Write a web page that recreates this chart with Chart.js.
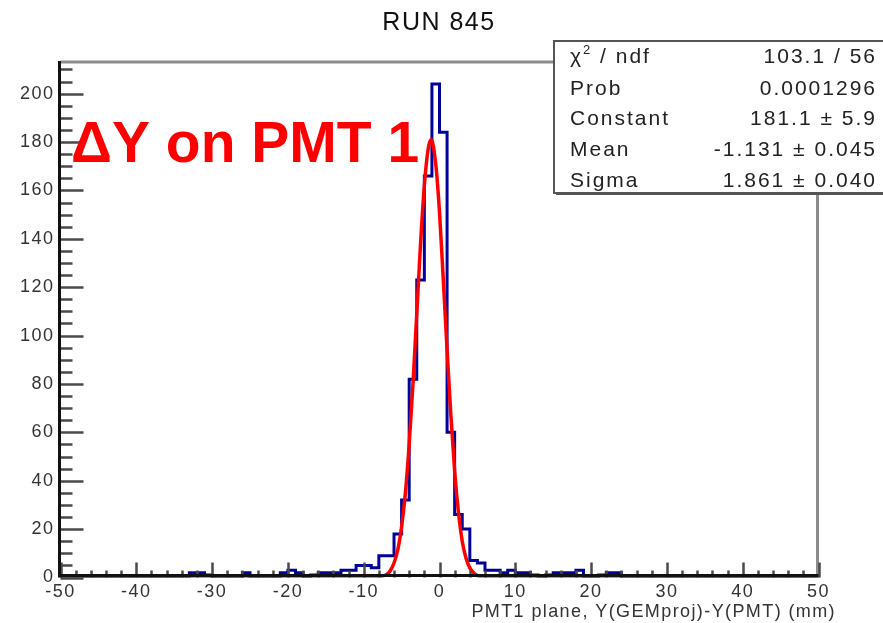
<!DOCTYPE html>
<html>
<head>
<meta charset="utf-8">
<script src="https://cdn.jsdelivr.net/npm/chart.js@4"></script>
<style>
html, body { margin: 0; padding: 0; background: #fff; }
</style>
</head>
<body>
<canvas id="myChart" width="883" height="623"></canvas>
<script>
// axis range and tick labels
const xMin = -50, xMax = 50
const yMax = 213.5
const xTicks = [-50, -40, -30, -20, -10, 0, 10, 20, 30, 40, 50]
const yTicks = [0, 20, 40, 60, 80, 100, 120, 140, 160, 180, 200]

// histogram counts, one per 1 mm bin from -50 to 50
const counts = [
    0, 0, 0, 0, 0, 0, 0, 0, 0, 0,
    0, 0, 0, 0, 0, 0, 0, 2, 2, 1,
    0, 0, 0, 0, 2, 0, 0, 0, 0, 2,
    3, 2, 0, 1, 2, 2, 2, 3, 3, 5,
    5, 4, 9, 9, 18, 32, 82, 123, 166, 204,
    184, 60, 26, 20, 7, 6, 3, 3, 2, 3,
    2, 2, 1, 0, 1, 2, 2, 2, 3, 0,
    0, 1, 2, 2, 0, 0, 0, 0, 0, 0,
    0, 0, 0, 0, 0, 0, 0, 0, 0, 0,
    0, 0, 0, 0, 0, 0, 0, 0, 0, 0
]

// gaussian fit curve
const fitX = [-50, -10, -9, -8, -7, -6.5, -6, -5.5, -5, -4.5, -4, -3.5, -3, -2.5, -2, -1.5, -1.1, -0.5, 0, 0.5, 1, 1.5, 2, 2.5, 3, 3.5, 4, 4.5, 5, 6, 7, 50]
const fitY = [0, 0, 0, 0.2, 1.2, 2.8, 6, 11.5, 21, 35, 55, 80, 109, 138, 162, 177, 181, 171, 151, 123, 94, 67, 44, 27, 15, 8, 4, 2, 0.8, 0.1, 0, 0]

// stats box
const statLabels = ['χ', 'Prob', 'Constant', 'Mean', 'Sigma']
const statValues = ['103.1 / 56', '0.0001296', '181.1 ± 5.9', '-1.131 ± 0.045', '1.861 ± 0.040']

const titleText = 'RUN 845'
const xTitle = 'PMT1 plane, Y(GEMproj)-Y(PMT) (mm)'
const labelText = 'ΔY on PMT 1'

// points at the low edge of every bin, plus the last upper edge
let histPoints = counts.map(function (c, i) {
    return { x: xMin + i, y: c }
})
histPoints.push({ x: xMax, y: counts[counts.length - 1] })

let fitPoints = fitX.map(function (x, i) {
    return { x: x, y: fitY[i] }
})

const FONT = '"Liberation Sans", Arial, sans-serif'

// ROOT text looks loosely spaced
const spacing = {
    id: 'spacing',
    beforeDraw(chart) { chart.ctx.letterSpacing = '1.5px' },
    afterDraw(chart) { chart.ctx.letterSpacing = '0px' }
}

// frame + inward ticks like a ROOT pad
const frame = {
    id: 'frame',
    afterDatasetsDraw(chart) {
        const { ctx, chartArea: a, scales } = chart
        const x = scales.x, y = scales.y
        ctx.save()
        ctx.strokeStyle = '#8c8c8c'
        ctx.lineWidth = 3
        ctx.beginPath()
        ctx.moveTo(a.left, a.top + 1)
        ctx.lineTo(a.right, a.top + 1)
        ctx.moveTo(a.right - 1, a.top)
        ctx.lineTo(a.right - 1, a.bottom)
        ctx.stroke()

        ctx.strokeStyle = '#4a4a4a'
        ctx.lineWidth = 2.5
        ctx.beginPath()
        const yStep = (yTicks[1] - yTicks[0]) / 4
        for (let v = 0; v <= yMax; v += yStep) {
            const py = Math.round(y.getPixelForValue(v)) + 0.5
            const len = yTicks.includes(v) ? 23 : 12
            ctx.moveTo(a.left, py)
            ctx.lineTo(a.left + len, py)
        }
        const xStep = (xTicks[1] - xTicks[0]) / 5
        for (let v = xMin; v <= xMax; v += xStep) {
            const px = Math.round(x.getPixelForValue(v)) + 0.5
            const len = xTicks.includes(v) ? 15 : 7
            ctx.moveTo(px, a.bottom)
            ctx.lineTo(px, a.bottom - len)
        }
        ctx.stroke()

        ctx.strokeStyle = '#111'
        ctx.lineWidth = 3
        ctx.beginPath()
        ctx.moveTo(a.left - 1, a.top)
        ctx.lineTo(a.left - 1, a.bottom)
        ctx.moveTo(a.left - 2, a.bottom - 2)
        ctx.lineTo(a.right, a.bottom - 2)
        ctx.stroke()
        ctx.restore()
    },
    afterDraw(chart) {
        const ctx = chart.ctx
        ctx.save()
        ctx.textBaseline = 'alphabetic'

        // title
        ctx.letterSpacing = '1.5px'
        ctx.fillStyle = '#111'
        ctx.font = '25px ' + FONT
        ctx.textAlign = 'center'
        ctx.fillText(titleText, 439, 30)

        // big red label
        ctx.letterSpacing = '0px'
        ctx.fillStyle = '#ff0000'
        ctx.font = 'bold 57px ' + FONT
        ctx.textAlign = 'left'
        ctx.fillText(labelText, 71, 162)

        // x axis title
        ctx.letterSpacing = '1.4px'
        ctx.fillStyle = '#333'
        ctx.font = '18px ' + FONT
        ctx.textAlign = 'right'
        ctx.fillText(xTitle, 836, 617)

        // stats box
        const bx = 553, by = 40, bw = 332, bh = 152
        ctx.fillStyle = '#fff'
        ctx.fillRect(bx, by, bw, bh)
        ctx.fillStyle = '#555'
        ctx.fillRect(bx + 3, by + bh, bw, 3)
        ctx.strokeStyle = '#555'
        ctx.lineWidth = 2
        ctx.strokeRect(bx + 1, by + 1, bw, bh)

        ctx.fillStyle = '#222'
        ctx.letterSpacing = '2px'
        const rows = [63, 95, 125, 156, 187]
        statLabels.forEach(function (lab, i) {
            ctx.textAlign = 'left'
            ctx.font = '21px ' + FONT
            ctx.fillText(lab, 570, rows[i])
            if (i === 0) {
                let w = ctx.measureText(lab).width
                ctx.font = '13px ' + FONT
                ctx.fillText('2', 570 + w, rows[i] - 9)
                w += ctx.measureText('2').width
                ctx.font = '21px ' + FONT
                ctx.fillText(' / ndf', 570 + w, rows[i])
            }
            ctx.textAlign = 'right'
            ctx.fillText(statValues[i], 877, rows[i])
        })
        ctx.restore()
    }
}

let currChart = document.getElementById('myChart').getContext('2d')

let histChart = new Chart(currChart, {
    type: 'line',
    data: {
        datasets: [{
            data: fitPoints,
            borderColor: '#ff0000',
            borderWidth: 3.5,
            cubicInterpolationMode: 'monotone',
            pointRadius: 0,
            fill: false,
            order: 0,
        }, {
            data: histPoints,
            stepped: 'before',
            borderColor: '#00009a',
            borderWidth: 3,
            pointRadius: 0,
            fill: false,
            order: 1,
        }]
    },
    options: {
        responsive: false,
        animation: false,
        layout: { padding: { left: 0, right: 64.5, top: 61, bottom: 0 } },
        plugins: {
            legend: { display: false },
            tooltip: { enabled: false },
            title: { display: false },
        },
        scales: {
            x: {
                type: 'linear',
                min: xMin,
                max: xMax,
                afterBuildTicks: function (s) { s.ticks = xTicks.map(v => ({ value: v })) },
                afterFit: function (s) { s.height = 45.5 },
                grid: { display: false, drawTicks: false },
                border: { display: false },
                ticks: {
                    autoSkip: false,
                    maxRotation: 0,
                    padding: 4,
                    color: '#333',
                    font: { family: FONT, size: 18 },
                },
            },
            y: {
                min: 0,
                max: yMax,
                afterBuildTicks: function (s) { s.ticks = yTicks.map(v => ({ value: v })) },
                afterFit: function (s) { s.width = 60.5 },
                grid: { display: false, drawTicks: false },
                border: { display: false },
                ticks: {
                    padding: 6,
                    color: '#333',
                    font: { family: FONT, size: 18 },
                },
            },
        },
    },
    plugins: [spacing, frame],
})
</script>
</body>
</html>
